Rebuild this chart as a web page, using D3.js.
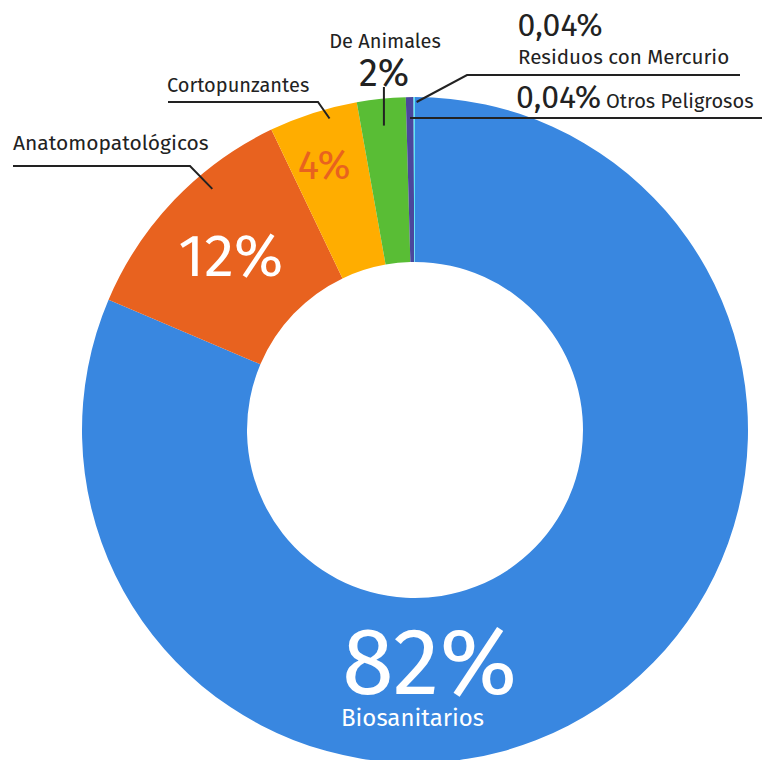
<!DOCTYPE html>
<html>
<head>
<meta charset="utf-8">
<script src="https://cdn.jsdelivr.net/npm/d3@7"></script>
<style>
  body { margin: 0; background: #fff; }
  svg { display: block; font-family: "Fira Sans", "Open Sans", sans-serif; }
</style>
</head>
<body>
<div id="chart"></div>
<script>
// data
var categories = ["Biosanitarios", "Anatomopatológicos", "Cortopunzantes", "De Animales", "Residuos con Mercurio", "Otros Peligrosos"];
var values = [81.4, 11.5, 4.3, 2.36, 0.37, 0.07];
var pctLabels = ["82%", "12%", "4%", "2%", "0,04%", "0,04%"];
var colors = ["#3987e0", "#e8621f", "#ffad00", "#59bd35", "#4b479c", "#5ce6f7"];

var width = 762, height = 760;
var cx = 415, cy = 430, outerR = 333, innerR = 168;
var ink = "#222";

var svg = d3.select("#chart").append("svg")
    .attr("width", width)
    .attr("height", height);

var g = svg.append("g").attr("transform", "translate(" + cx + "," + cy + ")");

var data = categories.map(function(c, i) { return {name: c, value: values[i], label: pctLabels[i]}; });

var pie = d3.pie()
    .sort(null)
    .startAngle(0)
    .endAngle(2 * Math.PI)
    .value(function(d) { return d.value; });

var arc = d3.arc()
    .innerRadius(innerR)
    .outerRadius(outerR);

var arcs = pie(data);

g.selectAll(".slice")
    .data(arcs)
  .enter().append("path")
    .attr("class", "slice")
    .attr("d", arc)
    .attr("fill", function(d, i) { return colors[i]; });

// point on a slice: frac along its angle, at radius r (absolute coords)
function slicePoint(i, frac, r) {
    var a = arcs[i].startAngle + frac * (arcs[i].endAngle - arcs[i].startAngle);
    return [cx + r * Math.sin(a), cy - r * Math.cos(a)];
}

// leader lines
var leaders = [
    {i: 1, frac: 0.65, r: 315, pts: [[190, 166], [13, 166]]},
    {i: 2, frac: 0.66, r: 323, pts: [[318, 102], [168, 102]]},
    {i: 3, frac: 0.5, r: 306, pts: [[null, 87]]},
    {i: 4, frac: 1.4, r: 328, pts: [[467, 75], [740, 75]]},
    {i: 4, frac: 0.5, r: 312, pts: [[null, null], [762, null]]}
];

var line = d3.line();
leaders.forEach(function(l) {
    var s = slicePoint(l.i, l.frac, l.r);
    var pts = [s].concat(l.pts.map(function(p) {
        return [p[0] === null ? s[0] : p[0], p[1] === null ? s[1] : p[1]];
    }));
    svg.append("path")
        .attr("d", line(pts))
        .attr("fill", "none")
        .attr("stroke", ink)
        .attr("stroke-width", 2);
});

function addText(x, y, txt, size, color, anchor) {
    return svg.append("text")
        .attr("x", x)
        .attr("y", y)
        .attr("font-size", size)
        .attr("fill", color)
        .attr("text-anchor", anchor || "start")
        .text(txt);
}

// inside labels
var c1 = d3.arc().innerRadius(248).outerRadius(248).centroid(arcs[1]);
addText(cx + c1[0] - 5, cy + c1[1] + 17, pctLabels[1], 60, "#fff", "middle");
var c2 = d3.arc().innerRadius(277).outerRadius(277).centroid(arcs[2]);
addText(cx + c2[0] - 6, cy + c2[1] + 13, pctLabels[2], 40, colors[1], "middle");
addText(342, 694, pctLabels[0], 94, "#fff");
addText(341, 726, categories[0], 24, "#fff");

// outside labels
addText(13, 150, categories[1], 21, ink);
addText(167, 92, categories[2], 20, ink);
addText(385, 48, categories[3], 20, ink, "middle");
addText(384, 86, pctLabels[3], 38, ink, "middle");
addText(560, 36, pctLabels[4], 32, ink, "middle");
addText(518, 64, categories[4], 20.6, ink);
addText(516, 108, pctLabels[5], 32, ink);
addText(606, 108, categories[5], 20, ink);
</script>
</body>
</html>
